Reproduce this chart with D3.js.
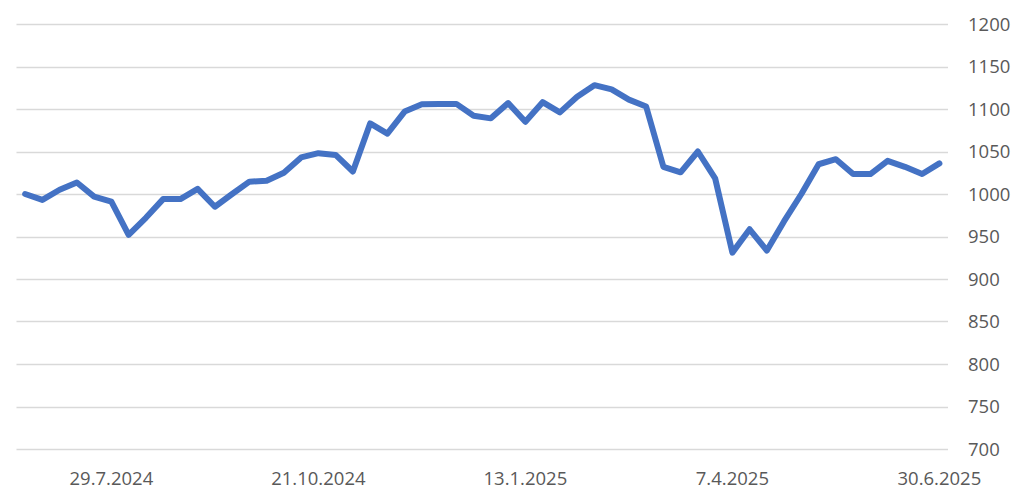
<!DOCTYPE html>
<html>
<head>
<meta charset="utf-8">
<style>
  body { margin: 0; background: #fff; }
  svg { display: block; }
</style>
</head>
<body>
<script src="https://d3js.org/d3.v7.min.js"></script>
<script>

// weekly values, 24.6.2024 .. 30.6.2025
var dates = ["24.6.2024","1.7.2024","8.7.2024","15.7.2024","22.7.2024","29.7.2024",
  "5.8.2024","12.8.2024","19.8.2024","26.8.2024","2.9.2024","9.9.2024","16.9.2024",
  "23.9.2024","30.9.2024","7.10.2024","14.10.2024","21.10.2024","28.10.2024","4.11.2024",
  "11.11.2024","18.11.2024","25.11.2024","2.12.2024","9.12.2024","16.12.2024","23.12.2024",
  "30.12.2024","6.1.2025","13.1.2025","20.1.2025","27.1.2025","3.2.2025","10.2.2025",
  "17.2.2025","24.2.2025","3.3.2025","10.3.2025","17.3.2025","24.3.2025","31.3.2025",
  "7.4.2025","14.4.2025","21.4.2025","28.4.2025","5.5.2025","12.5.2025","19.5.2025",
  "26.5.2025","2.6.2025","9.6.2025","16.6.2025","23.6.2025","30.6.2025"];

var values = [1000, 993, 1005, 1013.5, 997, 991, 952, 972, 994, 994, 1006, 985, 1000,
  1014.5, 1015.5, 1025, 1043, 1048, 1046, 1026.5, 1083, 1071, 1097, 1105.5, 1106, 1106,
  1092, 1089, 1107, 1085, 1108, 1096, 1114.5, 1128, 1123, 1111, 1103, 1032, 1025.5, 1050,
  1018.5, 931, 958.5, 933.5, 968, 1000, 1035, 1041, 1023.5, 1023.5, 1039, 1032, 1023.5, 1036];

var xTickLabels = ["29.7.2024", "21.10.2024", "13.1.2025", "7.4.2025", "30.6.2025"];
var yTicks = [700, 750, 800, 850, 900, 950, 1000, 1050, 1100, 1150, 1200];

var width = 1024, height = 502;
var plot = {left: 16.5, right: 948, top: 24, bottom: 449};

var x = d3.scaleBand()
    .domain(dates)
    .range([plot.left, plot.right]);

var y = d3.scaleLinear()
    .domain([700, 1200])
    .range([plot.bottom, plot.top]);

var svg = d3.select("body").append("svg")
    .attr("width", width)
    .attr("height", height);

// gridlines
svg.append("g")
    .selectAll("line")
    .data(yTicks)
  .enter().append("line")
    .attr("x1", plot.left)
    .attr("x2", plot.right)
    .attr("y1", function(d) { return Math.round(y(d)) + 0.5; })
    .attr("y2", function(d) { return Math.round(y(d)) + 0.5; })
    .style("stroke", "#d9d9d9")
    .style("stroke-width", 1.3);

// right-hand value labels
svg.append("g")
    .selectAll("text")
    .data(yTicks)
  .enter().append("text")
    .attr("x", 968)
    .attr("y", function(d) { return y(d); })
    .attr("dy", "0.36em")
    .style("font-family", "'Open Sans', sans-serif")
    .style("font-size", "18.5px")
    .style("fill", "#595959")
    .text(function(d) { return d; });

// date labels
svg.append("g")
    .selectAll("text")
    .data(xTickLabels)
  .enter().append("text")
    .attr("x", function(d) { return x(d) + x.bandwidth() / 2; })
    .attr("y", 485)
    .attr("text-anchor", "middle")
    .style("font-family", "'Open Sans', sans-serif")
    .style("font-size", "18.5px")
    .style("fill", "#595959")
    .text(function(d) { return d; });

var line = d3.line()
    .x(function(d, i) { return x(dates[i]) + x.bandwidth() / 2; })
    .y(function(d) { return y(d); });

svg.append("path")
    .datum(values)
    .attr("d", line)
    .style("fill", "none")
    .style("stroke", "#4472c4")
    .style("stroke-width", 6)
    .style("stroke-linejoin", "round")
    .style("stroke-linecap", "round");

</script>
</body>
</html>
